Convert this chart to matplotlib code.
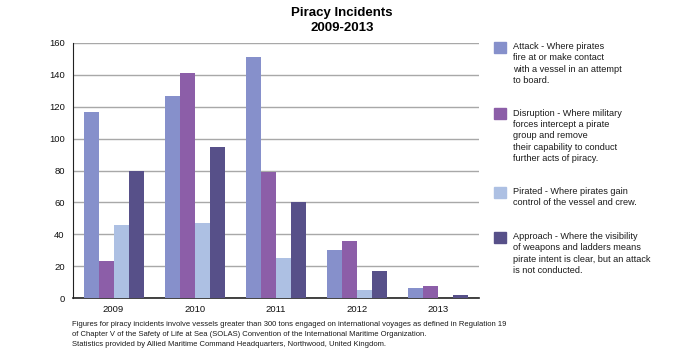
import numpy as np
import matplotlib
matplotlib.use("Agg")
import matplotlib.pyplot as plt
from matplotlib.patches import Rectangle

plt.rcParams['font.family'] = ['Liberation Sans', 'DejaVu Sans']

# Data
years = ['2009', '2010', '2011', '2012', '2013']
attack = [117, 127, 151, 30, 6]
disruption = [23, 141, 79, 36, 7.5]
pirated = [46, 47, 25, 5, 0]
approach = [80, 95, 60, 17, 2]

series_names = ['Attack', 'Disruption', 'Pirated', 'Approach']
legend_texts = [
    "Attack - Where pirates\nfire at or make contact\nwith a vessel in an attempt\nto board.",
    "Disruption - Where military\nforces intercept a pirate\ngroup and remove\ntheir capability to conduct\nfurther acts of piracy.",
    "Pirated - Where pirates gain\ncontrol of the vessel and crew.",
    "Approach - Where the visibility\nof weapons and ladders means\npirate intent is clear, but an attack\nis not conducted.",
]
colors = ['#8690cb', '#8c5ea8', '#adc0e3', '#575089']
footnote = ("Figures for piracy incidents involve vessels greater than 300 tons engaged on international voyages as defined in Regulation 19\n"
            "of Chapter V of the Safety of Life at Sea (SOLAS) Convention of the International Maritime Organization.\n"
            "Statistics provided by Allied Maritime Command Headquarters, Northwood, United Kingdom.")

W, H = 700, 355
fig = plt.figure(figsize=(7, 3.55), dpi=100)
ax = fig.add_axes([73 / W, 1 - 298 / H, 406 / W, 255 / H])

x = np.arange(len(years))
bw = 0.185
all_series = [attack, disruption, pirated, approach]
for i, vals in enumerate(all_series):
    ax.bar(x + (i - 1.5) * bw, vals, width=bw, color=colors[i], zorder=3)

ax.set_xlim(-0.5, len(years) - 0.5)
ax.set_ylim(0, 160)
ax.set_yticks(np.arange(0, 161, 20))
ax.set_xticks(x)
ax.set_xticklabels(years)
ax.yaxis.grid(True, color='#a8a8a8', linewidth=1.0, zorder=0)
ax.set_axisbelow(True)
ax.tick_params(axis='both', length=0, labelsize=6.8, colors='#111111')
ax.tick_params(axis='y', pad=6)
ax.tick_params(axis='x', pad=5)
for s in ['top', 'right']:
    ax.spines[s].set_visible(False)
ax.spines['left'].set_color('#222222')
ax.spines['bottom'].set_color('#222222')
ax.spines['bottom'].set_linewidth(1.2)

fig.text(342 / W, 1 - 7 / H, "Piracy Incidents\n2009-2013", ha='center', va='top',
         fontsize=9.5, fontweight='bold', linespacing=1.3)

# legend drawn by hand to keep the spacing of the original
leg_tops = [41.7, 108.3, 186.7, 231.7]
for i, txt in enumerate(legend_texts):
    top = leg_tops[i]
    fig.add_artist(Rectangle((494 / W, 1 - (top + 11) / H), 12 / W, 11 / H,
                             transform=fig.transFigure, color=colors[i]))
    fig.text(513 / W, 1 - (top + 0.5) / H, txt, ha='left', va='top',
             fontsize=6.6, linespacing=1.32, color='#1a1a1a')

fig.text(72 / W, 1 - 321 / H, footnote, ha='left', va='top',
         fontsize=5.5, linespacing=1.55, color='#1a1a1a')

fig.savefig("out.png", dpi=100)
